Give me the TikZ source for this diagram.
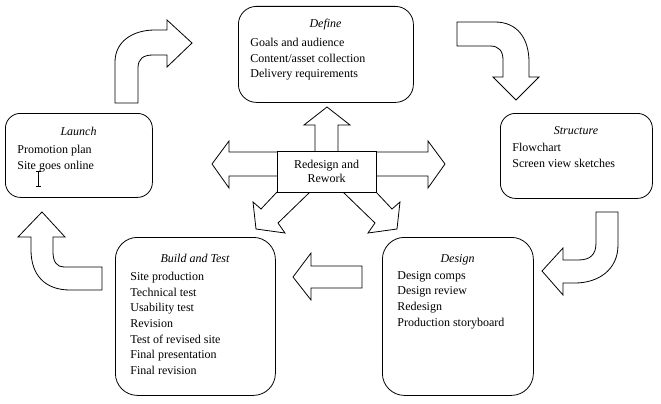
\documentclass[tikz,border=0pt]{standalone}
\usepackage{fontspec}
\setmainfont{Liberation Serif}

\begin{document}
\begin{tikzpicture}[x=1pt,y=-1pt,line width=0.8pt,
  stage/.style={draw, fill=white, rounded corners=#1, anchor=north west, inner sep=0pt},
  stage/.default=15pt,
  stagetitle/.style={anchor=base, inner sep=0pt, font=\fontsize{12}{14}\selectfont\itshape},
  items/.style={anchor=north west, align=left, inner sep=0pt, font=\fontsize{12}{15.6}\selectfont},
  blockarrow/.style={draw, fill=white, line join=miter}]
\fill[white] (0,0) rectangle (661,404);
\useasboundingbox (0,0) rectangle (661,404);

\draw[blockarrow] (115,103) -- (115,62) .. controls (115,42) and (132,30) .. (155,30) -- (167,30) -- (167,20) -- (192,43) -- (167,67) -- (167,55) -- (153,55) .. controls (143,55) and (138,59) .. (138,68) -- (138,103) -- cycle;
\draw[blockarrow] (457,22) -- (495,22) .. controls (517,22) and (529,38) .. (529,62) -- (529,77) -- (539,77) -- (516,100) -- (493,77) -- (503,77) -- (503,60) .. controls (503,51) and (499,46) .. (490,46) -- (457,46) -- cycle;
\draw[blockarrow] (596,212) -- (618,212) -- (618,245) .. controls (618,270) and (598,283) .. (575,283) -- (563,283) -- (563,295) -- (542,271) -- (563,248) -- (563,260) -- (578,260) .. controls (590,260) and (596,255) .. (596,243) -- cycle;
\draw[blockarrow] (362,266) -- (311,266) -- (311,253) -- (293,277) -- (311,300) -- (311,288) -- (362,288) -- cycle;
\draw[blockarrow] (102,267) -- (64,267) .. controls (57,267) and (53,262) .. (53,252) -- (53,237) -- (65,237) -- (42,212) -- (18,237) -- (31,237) -- (31,250) .. controls (31,275) and (45,290) .. (70,290) -- (102,290) -- cycle;

\draw[blockarrow] (315,151) -- (315,125) -- (304,125) -- (327,107) -- (350,125) -- (338,125) -- (338,151);
\draw[blockarrow] (277,152) -- (229,152) -- (229,141) -- (212,164) -- (229,188) -- (229,176) -- (277,176);
\draw[blockarrow] (376,152) -- (428,152) -- (428,141) -- (445,164) -- (428,188) -- (428,176) -- (376,176);
\draw[blockarrow] (277,192) -- (261,209) -- (253,202) -- (256,229) -- (285,233) -- (278,223) -- (310,192);
\draw[blockarrow] (376,192) -- (392,209) -- (400,202) -- (397,229) -- (368,233) -- (375,223) -- (343,192);

\node[stage=18pt, minimum width=175pt, minimum height=96pt] (define) at (238,6) {};
\node[stage, minimum width=147pt, minimum height=84pt] (launch) at (5,113) {};
\node[stage, minimum width=152pt, minimum height=85pt] (structure) at (500,113) {};
\node[stage=22pt, minimum width=160pt, minimum height=158pt] (build) at (115,237) {};
\node[stage=22pt, minimum width=151pt, minimum height=158pt] (design) at (382,237) {};

\node[stagetitle] (definetitle) at (325.5,28) {Define};
\node[stagetitle] (launchtitle) at (78.5,135) {Launch};
\node[stagetitle] (structuretitle) at (576,134) {Structure};
\node[stagetitle] (buildtitle) at (195,262) {Build and Test};
\node[stagetitle] (designtitle) at (457.5,262) {Design};

\node[items] (definelist) at (250,38) {Goals and audience\\Content/asset collection\\Delivery requirements};
\node[items] (launchlist) at (17,145) {Promotion plan\\Site goes online};
\node[items] (structurelist) at (512,143) {Flowchart\\Screen view sketches};
\node[items] (buildlist) at (130,272) {Site production\\Technical test\\Usability test\\Revision\\Test of revised site\\Final presentation\\Final revision};
\node[items] (designlist) at (397,271) {Design comps\\Design review\\Redesign\\Production storyboard};

\node[draw, fill=white, minimum width=99pt, minimum height=41pt, inner sep=0pt, align=center, font=\fontsize{12}{14.5}\selectfont] (rework) at (326.5,171.5) {Redesign and\\Rework};

\draw[line width=0.6pt] (38.5,171) -- (38.5,186) (36,171) -- (41,171) (36,186) -- (41,186);
\end{tikzpicture}
\end{document}
